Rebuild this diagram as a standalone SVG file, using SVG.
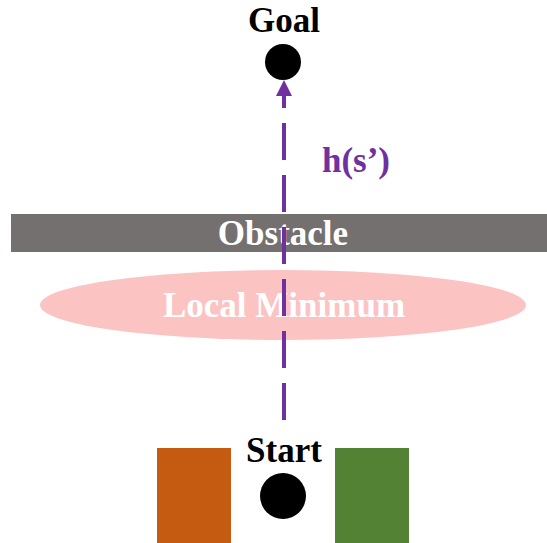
<svg xmlns="http://www.w3.org/2000/svg" width="547" height="543" viewBox="0 0 547 543">
<style>
.lbl{font-family:"Liberation Serif","Times New Roman",serif;font-weight:bold;text-anchor:middle;font-size:35px}
.w{fill:#ffffff}
.k{fill:#000000}
</style>
<defs>
<marker id="ah" markerWidth="4" markerHeight="4" refX="2" refY="2" orient="auto" markerUnits="strokeWidth">
<path d="M0,0 L4,2 L0,4 z" fill="#7030a0"/>
</marker>
</defs>
<rect width="547" height="543" fill="#ffffff"/>
<g id="obstacle">
<rect x="11" y="214" width="536" height="38" fill="#757070"/>
<text class="lbl w" x="283" y="245">Obstacle</text>
</g>
<g id="local-minimum">
<ellipse cx="283" cy="305" rx="243" ry="35" fill="#fcc3c3"/>
<text class="lbl w" x="284" y="317">Local Minimum</text>
</g>
<g id="orange-block"><rect x="157" y="448" width="74" height="95" fill="#c55a11"/></g>
<g id="green-block"><rect x="335" y="448" width="74" height="95" fill="#548235"/></g>
<g id="goal">
<circle cx="283" cy="62" r="18" fill="#000000"/>
<text class="lbl k" x="284" y="32">Goal</text>
</g>
<g id="start">
<circle cx="283" cy="496" r="23" fill="#000000"/>
<text class="lbl k" x="284" y="462">Start</text>
</g>
<g id="connectors">
<line x1="284" y1="420" x2="284" y2="88" stroke="#7030a0" stroke-width="4" stroke-dasharray="37,15" marker-end="url(#ah)"/>
<text class="lbl" x="356" y="172" fill="#7030a0">h(s’)</text>
</g>
</svg>
